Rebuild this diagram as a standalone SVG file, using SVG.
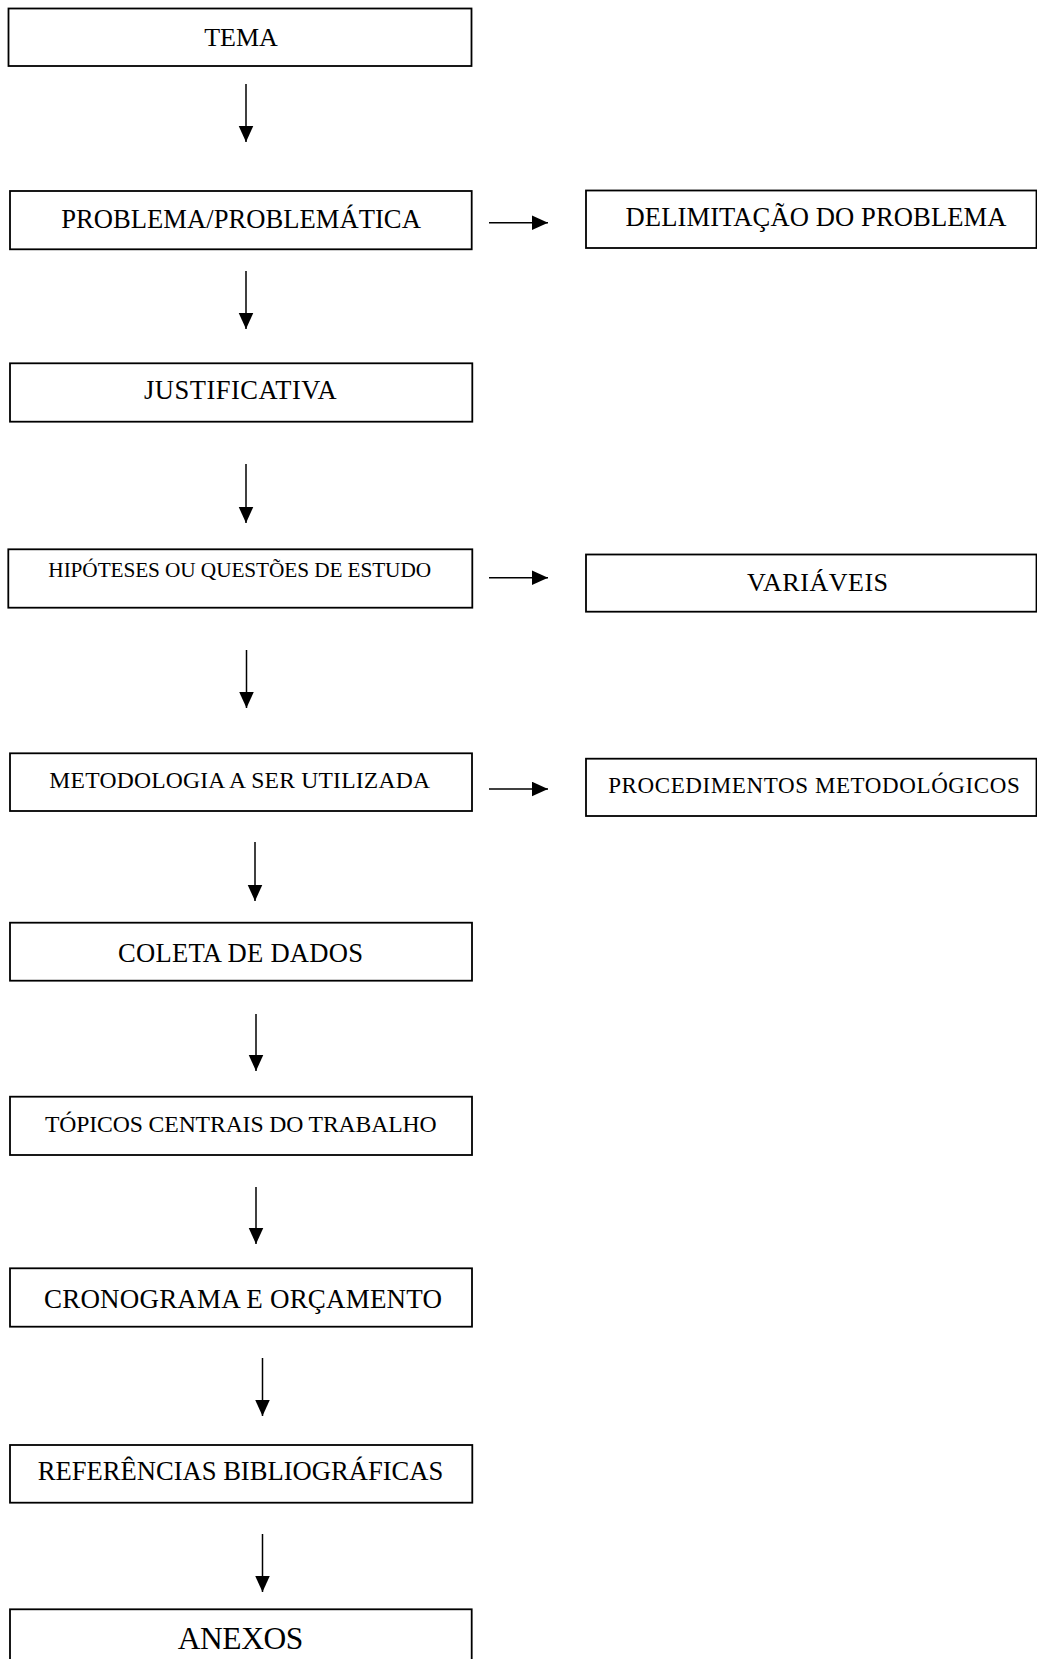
<svg xmlns="http://www.w3.org/2000/svg" width="1037" height="1659" viewBox="0 0 1037 1659">
<style>
.box{fill:#fff;stroke:#000;stroke-width:1.8}
.t{font-family:"Liberation Serif","Times New Roman",serif;fill:#000;text-anchor:middle}
.c{stroke:#000;stroke-width:1.5;fill:none;marker-end:url(#ah)}
</style>
<defs>
<marker id="ah" markerUnits="userSpaceOnUse" markerWidth="17" markerHeight="16" viewBox="0 0 17 16" refX="16.5" refY="7.5" orient="auto">
<path d="M0,0 L16.5,7.5 L0,15 z" fill="#000"/>
</marker>
</defs>
<rect width="1037" height="1659" fill="#fff"/>
<g id="connectors">
<line class="c" x1="246" y1="84" x2="246" y2="142"/>
<line class="c" x1="246" y1="271" x2="246" y2="329"/>
<line class="c" x1="246" y1="464" x2="246" y2="523"/>
<line class="c" x1="246.5" y1="650" x2="246.5" y2="708"/>
<line class="c" x1="255" y1="842" x2="255" y2="901"/>
<line class="c" x1="256" y1="1014" x2="256" y2="1071"/>
<line class="c" x1="256" y1="1187" x2="256" y2="1244"/>
<line class="c" x1="262.5" y1="1358" x2="262.5" y2="1416"/>
<line class="c" x1="262.5" y1="1534" x2="262.5" y2="1592"/>
<line class="c" x1="489" y1="222.7" x2="548" y2="222.7"/>
<line class="c" x1="489" y1="577.7" x2="548" y2="577.7"/>
<line class="c" x1="489" y1="789" x2="548" y2="789"/>
</g>
<g id="tema"><rect class="box" x="8.5" y="8.5" width="463" height="57.5"/><text class="t" x="241" y="45.7" font-size="26" textLength="73.7" lengthAdjust="spacing">TEMA</text></g>
<g id="problema"><rect class="box" x="10" y="191" width="461.7" height="58.3"/><text class="t" x="241" y="227.7" font-size="26.6" textLength="359.7" lengthAdjust="spacing">PROBLEMA/PROBLEMÁTICA</text></g>
<g id="delimitacao"><rect class="box" x="586" y="190.5" width="450.5" height="57.5"/><text class="t" x="816" y="226" font-size="26.6" textLength="381" lengthAdjust="spacing">DELIMITAÇÃO DO PROBLEMA</text></g>
<g id="justificativa"><rect class="box" x="10" y="363.3" width="462.3" height="58.4"/><text class="t" x="240.3" y="399" font-size="26.5" textLength="192.7" lengthAdjust="spacing">JUSTIFICATIVA</text></g>
<g id="hipoteses"><rect class="box" x="8.3" y="549.3" width="464" height="58.4"/><text class="t" x="239.7" y="577" font-size="21.3" textLength="382.7" lengthAdjust="spacing">HIPÓTESES OU QUESTÕES DE ESTUDO</text></g>
<g id="variaveis"><rect class="box" x="586" y="554.5" width="450.5" height="57.2"/><text class="t" x="817.6" y="591" font-size="26.1" textLength="141" lengthAdjust="spacing">VARIÁVEIS</text></g>
<g id="metodologia"><rect class="box" x="10" y="753.3" width="462" height="57.7"/><text class="t" x="239.7" y="788.3" font-size="23.6" textLength="380.7" lengthAdjust="spacing">METODOLOGIA A SER UTILIZADA</text></g>
<g id="procedimentos"><rect class="box" x="586" y="758.7" width="450.5" height="57.3"/><text class="t" x="814" y="792.5" font-size="23" textLength="411.6" lengthAdjust="spacing">PROCEDIMENTOS METODOLÓGICOS</text></g>
<g id="coleta"><rect class="box" x="10" y="922.7" width="462" height="58"/><text class="t" x="240.5" y="961.7" font-size="26.6" textLength="245" lengthAdjust="spacing">COLETA DE DADOS</text></g>
<g id="topicos"><rect class="box" x="10" y="1096.7" width="462" height="58.3"/><text class="t" x="240.8" y="1131.7" font-size="23.7" textLength="391.7" lengthAdjust="spacing">TÓPICOS CENTRAIS DO TRABALHO</text></g>
<g id="cronograma"><rect class="box" x="10" y="1268.3" width="462" height="58.4"/><text class="t" x="243" y="1308.3" font-size="27" textLength="398" lengthAdjust="spacing">CRONOGRAMA E ORÇAMENTO</text></g>
<g id="referencias"><rect class="box" x="10" y="1445" width="462.3" height="57.7"/><text class="t" x="240.5" y="1480" font-size="26.6" textLength="405.6" lengthAdjust="spacing">REFERÊNCIAS BIBLIOGRÁFICAS</text></g>
<g id="anexos"><rect class="box" x="10" y="1609.3" width="461.7" height="70"/><text class="t" x="240.5" y="1649" font-size="31.5" textLength="125.6" lengthAdjust="spacing">ANEXOS</text></g>
</svg>
